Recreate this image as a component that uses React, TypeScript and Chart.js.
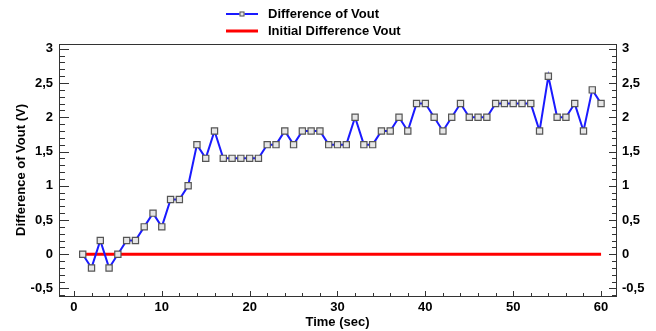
import React, { useEffect, useRef } from "react";
import { Chart, registerables } from "chart.js";

Chart.register(...registerables);

const times: number[] = [
  1, 2, 3, 4, 5, 6, 7, 8, 9, 10,
  11, 12, 13, 14, 15, 16, 17, 18, 19, 20,
  21, 22, 23, 24, 25, 26, 27, 28, 29, 30,
  31, 32, 33, 34, 35, 36, 37, 38, 39, 40,
  41, 42, 43, 44, 45, 46, 47, 48, 49, 50,
  51, 52, 53, 54, 55, 56, 57, 58, 59, 60,
];
const diffVout: number[] = [
  0, -0.2, 0.2, -0.2, 0, 0.2, 0.2, 0.4, 0.6, 0.4,
  0.8, 0.8, 1.0, 1.6, 1.4, 1.8, 1.4, 1.4, 1.4, 1.4,
  1.4, 1.6, 1.6, 1.8, 1.6, 1.8, 1.8, 1.8, 1.6, 1.6,
  1.6, 2.0, 1.6, 1.6, 1.8, 1.8, 2.0, 1.8, 2.2, 2.2,
  2.0, 1.8, 2.0, 2.2, 2.0, 2.0, 2.0, 2.2, 2.2, 2.2,
  2.2, 2.2, 1.8, 2.6, 2.0, 2.0, 2.2, 1.8, 2.4, 2.2,
];
const initialTimes: number[] = [1, 60];
const initialDiff: number[] = [0, 0];

const xTickValues: number[] = [0, 10, 20, 30, 40, 50, 60];
const yTickValues: number[] = [-0.5, 0, 0.5, 1, 1.5, 2, 2.5, 3];

const seriesLabels = ["Difference of Vout", "Initial Difference Vout"];

const FONT = "'Liberation Sans', Arial, sans-serif";

const fmt = (v: number) => String(v).replace(".", ",");

const boxPlugin = {
  id: "boxAndMinorTicks",
  afterDraw(chart: any) {
    const ctx = chart.ctx;
    const { left, right, top, bottom } = chart.chartArea;
    const xs = chart.scales.x;
    const yl = chart.scales.y;
    ctx.save();
    ctx.strokeStyle = "#333333";
    ctx.lineWidth = 1;
    ctx.strokeRect(Math.round(left) + 0.5, Math.round(top) + 0.5, Math.round(right - left), Math.round(bottom - top));
    ctx.beginPath();
    for (let i = -6; i <= 31; i++) {
      const v = i / 10;
      const py = Math.round(yl.getPixelForValue(v)) + 0.5;
      if (py < top || py > bottom) continue;
      const major = i % 5 === 0;
      const ll = major ? 10 : 6;
      const rl = major ? 7 : 4;
      ctx.moveTo(left, py);
      ctx.lineTo(left + ll, py);
      ctx.moveTo(right, py);
      ctx.lineTo(right - rl, py);
    }
    for (let v = 0; v <= 60; v += 2) {
      const px = Math.round(xs.getPixelForValue(v)) + 0.5;
      const major = v % 10 === 0;
      const l = major ? 5 : 3;
      ctx.moveTo(px, bottom);
      ctx.lineTo(px, bottom - l);
    }
    ctx.stroke();
    ctx.restore();
  },
};

const legendPlugin = {
  id: "customLegend",
  afterDraw(chart: any) {
    const ctx = chart.ctx;
    ctx.save();
    const x0 = 226;
    const x1 = 258;
    const rows = [14, 31];
    chart.data.datasets.forEach((ds: any, i: number) => {
      const y = rows[i];
      ctx.beginPath();
      ctx.strokeStyle = ds.borderColor;
      ctx.lineWidth = ds.borderWidth;
      ctx.moveTo(x0, y);
      ctx.lineTo(x1, y);
      ctx.stroke();
      if (ds.pointRadius > 0) {
        const s = 5;
        const cx = (x0 + x1) / 2;
        ctx.fillStyle = ds.pointBackgroundColor;
        ctx.strokeStyle = ds.pointBorderColor;
        ctx.lineWidth = 1;
        ctx.fillRect(cx - s / 2, y - s / 2, s, s);
        ctx.strokeRect(cx - s / 2 + 0.5, y - s / 2 + 0.5, s - 1, s - 1);
      }
      ctx.fillStyle = "#000";
      ctx.font = `bold 13px ${FONT}`;
      ctx.textBaseline = "middle";
      ctx.textAlign = "left";
      ctx.fillText(ds.label, 268, y);
    });
    ctx.restore();
  },
};

export default function App() {
  const canvasRef = useRef<HTMLCanvasElement | null>(null);

  useEffect(() => {
    const canvas = canvasRef.current;
    if (!canvas) return;
    const tickFont = { family: FONT, size: 13, weight: "bold" as const };
    const chart = new Chart(canvas, {
      type: "line",
      data: {
        datasets: [
          {
            label: seriesLabels[0],
            data: times.map((t, i) => ({ x: t, y: diffVout[i] })),
            borderColor: "#1a1aff",
            borderWidth: 2,
            pointStyle: "rect",
            pointRadius: 4.4,
            pointBackgroundColor: "#e6e6e6",
            pointBorderColor: "#555555",
            pointBorderWidth: 1.2,
            tension: 0,
            order: 0,
          },
          {
            label: seriesLabels[1],
            data: initialTimes.map((t, i) => ({ x: t, y: initialDiff[i] })),
            borderColor: "#ff0000",
            borderWidth: 3,
            pointRadius: 0,
            tension: 0,
            order: 1,
          },
        ],
      },
      options: {
        responsive: false,
        animation: false,
        layout: { padding: { top: 44, left: 0, right: 0, bottom: 0 } },
        plugins: {
          legend: { display: false },
          tooltip: { enabled: false },
        },
        scales: {
          x: {
            type: "linear",
            position: "bottom",
            min: -1.7,
            max: 61.7,
            grid: { display: false, drawTicks: false },
            border: { display: false },
            afterBuildTicks: (s: any) => {
              s.ticks = xTickValues.map((v) => ({ value: v }));
            },
            afterFit: (s: any) => {
              s.height = 35;
            },
            ticks: {
              font: tickFont,
              color: "#000",
              padding: 4,
              maxRotation: 0,
              autoSkip: false,
              callback: (v: any) => fmt(Number(v)),
            },
            title: {
              display: true,
              text: "Time (sec)",
              font: tickFont,
              color: "#000",
              padding: { top: 0, bottom: 1 },
            },
          },
          y: {
            type: "linear",
            position: "left",
            min: -0.61,
            max: 3.07,
            grid: { display: false, drawTicks: false },
            border: { display: false },
            afterBuildTicks: (s: any) => {
              s.ticks = yTickValues.map((v) => ({ value: v }));
            },
            afterFit: (s: any) => {
              s.width = 59;
            },
            ticks: {
              font: tickFont,
              color: "#000",
              padding: 6,
              autoSkip: false,
              callback: (v: any) => fmt(Number(v)),
            },
            title: {
              display: true,
              text: "Difference of Vout (V)",
              font: tickFont,
              color: "#000",
              padding: { top: 14, bottom: 0 },
            },
          },
          y2: {
            type: "linear",
            position: "right",
            min: -0.61,
            max: 3.07,
            grid: { display: false, drawTicks: false },
            border: { display: false },
            afterBuildTicks: (s: any) => {
              s.ticks = yTickValues.map((v) => ({ value: v }));
            },
            afterFit: (s: any) => {
              s.width = 40;
            },
            ticks: {
              font: tickFont,
              color: "#000",
              padding: 6,
              autoSkip: false,
              callback: (v: any) => fmt(Number(v)),
            },
          },
        },
      },
      plugins: [boxPlugin, legendPlugin],
    } as any);
    return () => chart.destroy();
  }, []);

  return (
    <div style={{ position: "fixed", left: 0, top: 0, width: 656, height: 331, background: "#fff" }}>
      <canvas ref={canvasRef} width={656} height={331} />
    </div>
  );
}
